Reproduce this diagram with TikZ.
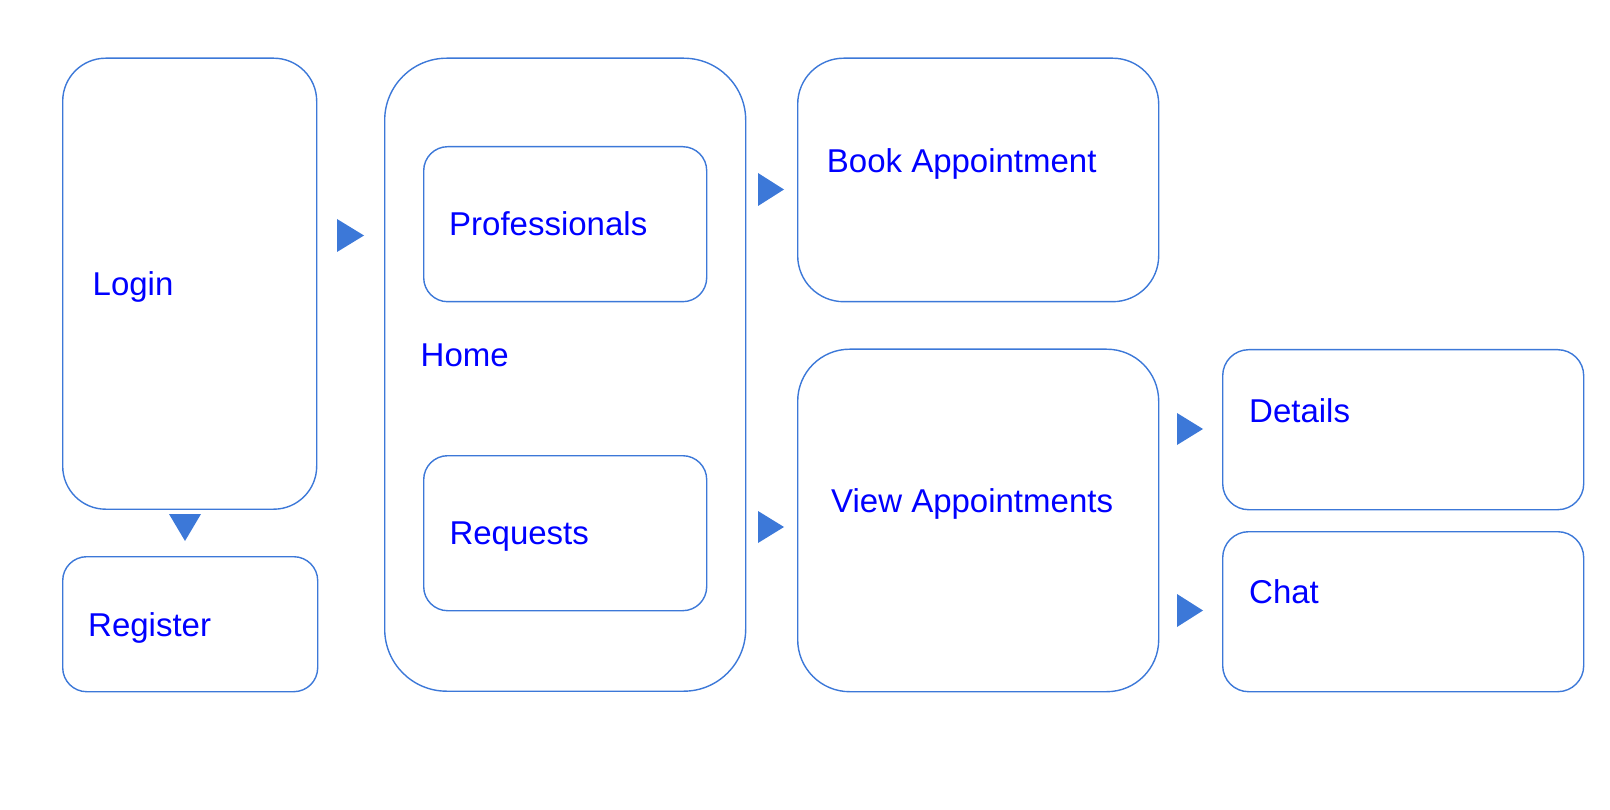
\documentclass[tikz,border=0pt]{standalone}
\usepackage{fontspec}
\setmainfont{Liberation Sans}
\usepackage{xcolor}
\usepackage{tikz}
\usetikzlibrary{positioning}
\definecolor{boxline}{HTML}{3C78D8}
\definecolor{labeltext}{HTML}{0000FF}
\tikzset{
    screen/.style={rectangle, draw=boxline, line width=1.4pt, inner sep=0pt, anchor=north west},
    caption/.style={anchor=base west, inner sep=0pt, text=labeltext, font=\fontsize{33}{40}\selectfont},
    pointer/.style={fill=boxline}
}
\begin{document}
\begin{tikzpicture}[x=1pt, y=-1pt]
    \useasboundingbox (0,0) rectangle (1610,810);
    % screens
    \node (login) [screen, rounded corners=43pt, minimum width=254pt, minimum height=451pt] at (62,57.5) {};
    \node (register) [screen, rounded corners=24pt, minimum width=255pt, minimum height=135pt] at (62,556) {};
    \node (home) [screen, rounded corners=62pt, minimum width=361pt, minimum height=633pt] at (384,57.5) {};
    \node (prof) [screen, rounded corners=24pt, minimum width=283pt, minimum height=155pt] at (423,146) {};
    \node (req) [screen, rounded corners=24pt, minimum width=283pt, minimum height=155pt] at (423,455) {};
    \node (book) [screen, rounded corners=46pt, minimum width=361pt, minimum height=243.5pt] at (797,57.5) {};
    \node (view) [screen, rounded corners=52pt, minimum width=361pt, minimum height=342.5pt] at (797,348.5) {};
    \node (details) [screen, rounded corners=26pt, minimum width=361pt, minimum height=160pt] at (1222,349) {};
    \node (chat) [screen, rounded corners=26pt, minimum width=361pt, minimum height=160pt] at (1222,531) {};

    % captions
    \node (logintxt) [caption] at (92.5,296) {Login};
    \node (registertxt) [caption] at (88,636) {Register};
    \node (hometxt) [caption] at (420.5,366.7) {Home};
    \node (proftxt) [caption] at (449,236) {Professionals};
    \node (reqtxt) [caption] at (449.3,544.3) {Requests};
    \node (booktxt) [caption] at (826.7,172.7) {Book Appointment};
    \node (viewtxt) [caption] at (831,512.7) {View Appointments};
    \node (detailstxt) [caption] at (1249,422) {Details};
    \node (chattxt) [caption] at (1249,603) {Chat};

    % pointers
    \fill [pointer] (337,219) -- (364,235.5) -- (337,252) -- cycle;
    \fill [pointer] (169,514) -- (201,514) -- (185,541) -- cycle;
    \fill [pointer] (758,173) -- (784,189.5) -- (758,206) -- cycle;
    \fill [pointer] (758,511) -- (784,527) -- (758,543) -- cycle;
    \fill [pointer] (1177,413) -- (1203,429) -- (1177,445) -- cycle;
    \fill [pointer] (1177,594) -- (1203,610.5) -- (1177,627) -- cycle;
\end{tikzpicture}
\end{document}
